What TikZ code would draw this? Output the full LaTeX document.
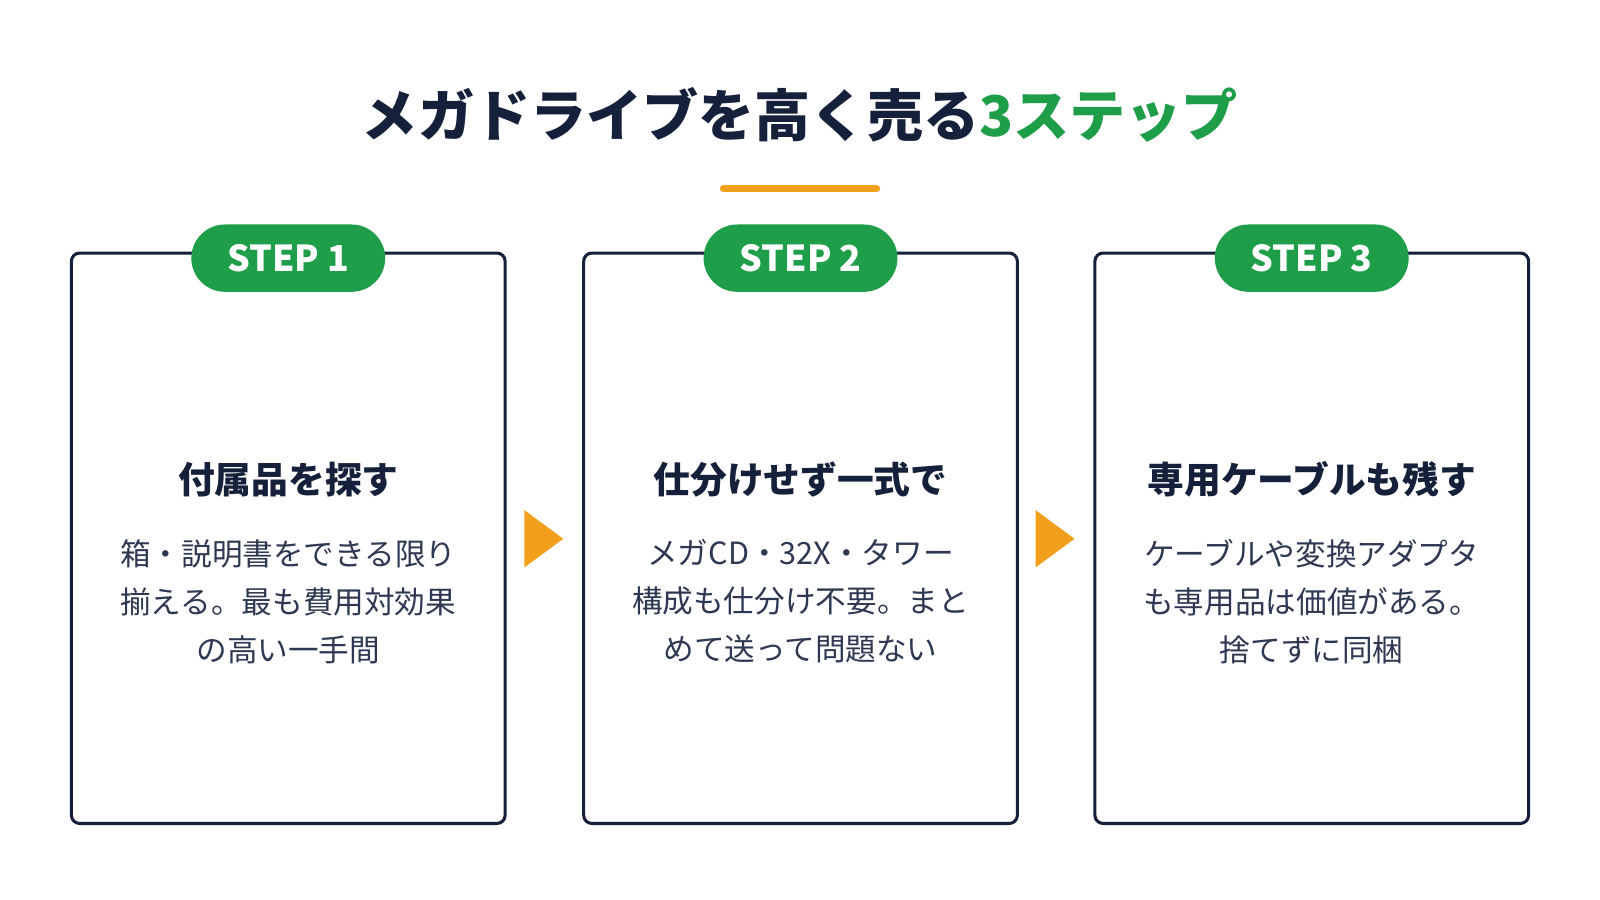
\documentclass[tikz,border=0pt]{standalone}
\usepackage{fontspec}
\setmainfont{Noto Sans CJK JP}
\newfontfamily\jpblack{Noto Sans CJK JP Black}
\begin{document}
\definecolor{navy}{HTML}{15203A}
\definecolor{grn}{HTML}{1E9E48}
\definecolor{org}{HTML}{F2A01C}
\definecolor{txt}{HTML}{2F3852}
\begin{tikzpicture}[x=1pt,y=-1pt,
 box/.style={draw=navy,line width=3pt,rounded corners=8pt,minimum width=425pt,minimum height=559pt,inner sep=0pt},
 pill/.style={fill=grn,rounded corners=33pt,minimum width=190pt,minimum height=66pt,text=white,font=\fontsize{35}{36}\jpblack\selectfont},
 head/.style={text=navy,font=\fontsize{36}{40}\jpblack\selectfont},
 body/.style={text=txt,align=center,font=\fontsize{30}{47}\selectfont},
 tri/.style={fill=org}]
\useasboundingbox (0,0) rectangle (1568,882);
\fill[white] (0,0) rectangle (1568,882);
\node[font=\fontsize{55}{60}\jpblack\selectfont,text=navy] (title) at (784,113) {メガドライブを高く売る\textcolor{grn}{3ステップ}};
\draw[org,line width=7pt,line cap=round] (709,185) -- (859,185);
\foreach \i/\cx/\h/\b in {1/282.5/付属品を探す/{箱・説明書をできる限り\\揃える。最も費用対効果\\の高い一手間},
 2/784.5/仕分けせず一式で/{メガCD・32X・タワー\\構成も仕分け不要。まと\\めて送って問題ない},
 3/1285.5/専用ケーブルも残す/{ケーブルや変換アダプタ\\も専用品は価値がある。\\捨てずに同梱}}{
 \node[box] (b\i) at (\cx,527.5) {};
 \node[pill] (p\i) at (\cx,253) {STEP \i};
 \node[head] (h\i) at (\cx,470) {\h};
 \node[body,anchor=north] (t\i) at (\cx,525) {\b};
}
\fill[org] (514,500) -- (552,528) -- (514,556) -- cycle;
\fill[org] (1015,500) -- (1053,528) -- (1015,556) -- cycle;
\end{tikzpicture}
\end{document}
